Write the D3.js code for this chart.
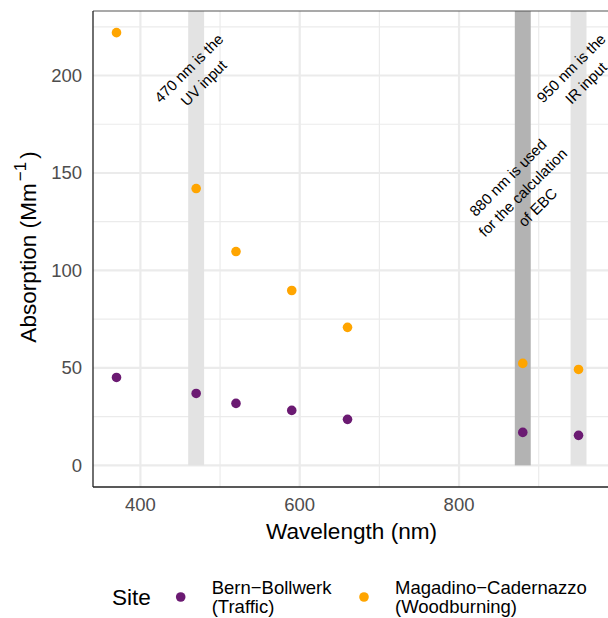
<!DOCTYPE html>
<html><head><meta charset="utf-8">
<script src="https://cdn.jsdelivr.net/npm/d3@7"></script>
<style>body{margin:0;background:#fff}svg{display:block;font-family:"Liberation Sans",Arial,sans-serif}</style>
</head><body>
<svg id="c" width="608" height="618"></svg>
<script>
const wavelengths = [370, 470, 520, 590, 660, 880, 950];
const bern = [45.1, 36.9, 31.8, 28.2, 23.6, 16.9, 15.4];
const magadino = [222, 142, 109.7, 89.7, 70.8, 52.3, 49.2];
const siteNames = ["Bern\u2212Bollwerk\n(Traffic)", "Magadino\u2212Cadernazzo\n(Woodburning)"];
const siteColors = ["#6B1A72", "#FFA500"];
const bands = [
  {xmin: 460, xmax: 480, fill: "#e3e3e3"},
  {xmin: 870, xmax: 890, fill: "#b3b3b3"},
  {xmin: 940, xmax: 960, fill: "#e3e3e3"}
];
const notes = [
  {x: 470, y: 200, text: ["470 nm is the", "UV input"]},
  {x: 880, y: 140, text: ["880 nm is used", "for the calculation", "of EBC"]},
  {x: 950, y: 200, text: ["950 nm is the", "IR input"]}
];
const xTicks = [400, 600, 800];
const xMinor = [500, 700, 900];
const yTicks = [0, 50, 100, 150, 200];
const yMinor = [25, 75, 125, 175, 225];

const svg = d3.select("#c");
const L = 93, R = 610, T = 11, B = 487;
const x = d3.scaleLinear().domain([340.5, 989.5]).range([L, R]);
const y = d3.scaleLinear().domain([-11.1, 233.1]).range([B, T]);

const g = svg.append("g");
// grid
g.selectAll(".gxm").data(xMinor).join("line").attr("x1", d => x(d)).attr("x2", d => x(d))
  .attr("y1", T).attr("y2", B).attr("stroke", "#ebebeb").attr("stroke-width", 1.2);
g.selectAll(".gym").data(yMinor).join("line").attr("y1", d => y(d)).attr("y2", d => y(d))
  .attr("x1", L).attr("x2", R).attr("stroke", "#ebebeb").attr("stroke-width", 1.2);
g.selectAll(".gx").data(xTicks).join("line").attr("x1", d => x(d)).attr("x2", d => x(d))
  .attr("y1", T).attr("y2", B).attr("stroke", "#ebebeb").attr("stroke-width", 2.2);
g.selectAll(".gy").data(yTicks).join("line").attr("y1", d => y(d)).attr("y2", d => y(d))
  .attr("x1", L).attr("x2", R).attr("stroke", "#ebebeb").attr("stroke-width", 2.2);

// bands
g.selectAll(".band").data(bands).join("rect")
  .attr("x", d => x(d.xmin)).attr("width", d => x(d.xmax) - x(d.xmin))
  .attr("y", T).attr("height", y(0) - T).attr("fill", d => d.fill);

// annotations
const lh = 21;
notes.forEach(n => {
  const t = g.append("text").attr("transform", `translate(${x(n.x)},${y(n.y)}) rotate(-45)`)
    .attr("text-anchor", "middle").attr("font-size", 15).attr("fill", "#000");
  n.text.forEach((s, i) => {
    t.append("tspan").attr("x", 0).attr("y", (i - (n.text.length - 1) / 2) * lh + 5.3).text(s);
  });
});

// points
const series = [bern, magadino];
series.forEach((vals, si) => {
  g.selectAll(".p" + si).data(vals).join("circle")
    .attr("cx", (d, i) => x(wavelengths[i])).attr("cy", d => y(d)).attr("r", 4.8)
    .attr("fill", siteColors[si]);
});

// panel border
svg.append("line").attr("x1", L).attr("x2", R).attr("y1", T).attr("y2", T).attr("stroke", "#555").attr("stroke-width", 1.2);
svg.append("line").attr("x1", L).attr("x2", L).attr("y1", T).attr("y2", B).attr("stroke", "#222").attr("stroke-width", 1.3);
svg.append("line").attr("x1", L).attr("x2", R).attr("y1", B).attr("y2", B).attr("stroke", "#222").attr("stroke-width", 1.3);

// tick labels
svg.selectAll(".xt").data(xTicks).join("text").attr("x", d => x(d)).attr("y", 511)
  .attr("text-anchor", "middle").attr("font-size", 18.5).attr("fill", "#4d4d4d").text(d => d);
svg.selectAll(".yt").data(yTicks).join("text").attr("x", 82).attr("y", d => y(d) + 6.5)
  .attr("text-anchor", "end").attr("font-size", 18.5).attr("fill", "#4d4d4d").text(d => d);

// axis titles
svg.append("text").attr("x", (L + R) / 2).attr("y", 539).attr("text-anchor", "middle")
  .attr("font-size", 22.6).attr("fill", "#000").text("Wavelength (nm)");
const yt = svg.append("text").attr("transform", `translate(36,247) rotate(-90)`).attr("text-anchor", "middle")
  .attr("font-size", 22.6).attr("fill", "#000");
yt.append("tspan").text("Absorption\u00a0(Mm");
yt.append("tspan").attr("font-size", 17).attr("dy", -10).attr("dx", 2).text("\u22121");
yt.append("tspan").attr("dy", 10).attr("dx", 3).text(")");

// legend
svg.append("text").attr("x", 112).attr("y", 605).attr("font-size", 22.6).attr("fill", "#000").text("Site");
const legX = [180.7, 364];
const labX = [211.7, 395];
siteNames.forEach((nm, i) => {
  svg.append("circle").attr("cx", legX[i]).attr("cy", 597).attr("r", 4.8).attr("fill", siteColors[i]);
  const t = svg.append("text").attr("font-size", 18.5).attr("fill", "#000");
  nm.split("\n").forEach((s, j) => t.append("tspan").attr("x", labX[i]).attr("y", 594 + j * 18.5).text(s));
});
</script>
</body></html>
